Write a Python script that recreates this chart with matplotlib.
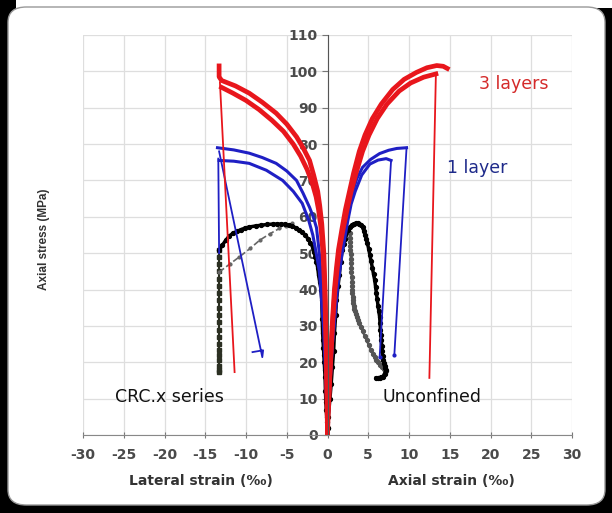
import matplotlib
matplotlib.use("Agg")
from matplotlib import pyplot as plt
from matplotlib.patches import FancyBboxPatch, Rectangle

plt.rcParams['font.family'] = ['DejaVu Sans']

# 3 layers (red)
red_ax1_x = [0, 0.05, 0.15, 0.3, 0.45, 0.65, 0.85, 1.1, 1.35, 1.8, 2.2, 2.7, 3.2, 3.9,
             4.6, 5.5, 6.6, 8.0, 9.4, 10.9, 12.2, 13.4, 14.2, 14.7]
red_ax1_y = [0, 5, 10, 18, 25, 33, 40, 46, 51, 57, 62, 67, 72, 78,
             82.5, 87, 91, 95, 97.8, 99.7, 101, 101.6, 101.4, 100.8]
red_ax2_x = [0, 0.05, 0.17, 0.33, 0.5, 0.7, 0.92, 1.2, 1.45, 1.95, 2.4, 2.9, 3.5, 4.3,
             5.1, 6.1, 7.3, 8.8, 10.2, 11.8, 13.3]
red_ax2_y = [0, 5, 10, 18, 25, 33, 40, 46, 51, 57, 62, 67, 72, 78,
             82.5, 87, 91, 94.6, 96.8, 98.4, 99.3]
red_ax_drop_x = [13.3, 12.5]
red_ax_drop_y = [99.3, 15.7]
red_lat1_x = [0, -0.05, -0.15, -0.3, -0.45, -0.7, -0.95, -1.2, -1.7, -2.2, -3.0, -3.8,
              -5.0, -6.3, -8.0, -9.6, -11.3, -13.0, -13.3, -13.3]
red_lat1_y = [0, 10, 25, 40, 50, 58, 63, 67, 71.5, 75.5, 79, 82,
              85.5, 88.5, 91.5, 94, 96, 97.5, 98.5, 101.5]
red_lat2_x = [0, -0.05, -0.17, -0.35, -0.55, -0.8, -1.1, -1.4, -1.9, -2.5, -3.3, -4.2,
              -5.4, -6.8, -8.4, -10.0, -11.6, -13.0]
red_lat2_y = [0, 10, 25, 40, 50, 57, 62, 65.5, 69.5, 73, 76.7, 80,
              83.5, 86.5, 89.5, 92, 94, 95.6]
red_lat_drop_x = [-13.2, -11.4]
red_lat_drop_y = [97, 17.3]

# 1 layer (blue)
blue_ax1_x = [0, 0.2, 0.6, 1.2, 1.7, 2.3, 2.7, 3.1, 3.6, 4.3, 5.3, 6.4, 7.5, 8.5, 9.7]
blue_ax1_y = [0, 10, 25, 40, 50, 59, 63.5, 67, 70.5, 73.6, 75.8, 77.4, 78.3, 78.8, 79]
blue_ax1_drop_x = [9.7, 8.2]
blue_ax1_drop_y = [79, 22]
blue_ax2_x = [0, 0.2, 0.6, 1.2, 1.8, 2.5, 2.9, 3.4, 4.2, 5.2, 6.2, 7.2, 7.8]
blue_ax2_y = [0, 10, 25, 40, 50, 59, 63.5, 67, 71.5, 74.5, 75.6, 76, 75.5]
blue_ax2_drop_x = [7.8, 6.4]
blue_ax2_drop_y = [75.5, 21.5]
blue_lat1_x = [0, -0.2, -0.4, -0.7, -1.0, -1.35, -1.75, -2.2, -3.0, -3.8, -5.0, -6.3,
               -8.0, -9.6, -11.5, -13.5]
blue_lat1_y = [0, 18, 30, 42, 50, 57, 60, 62.6, 66.5, 70, 72.6, 74.7,
               76.3, 77.5, 78.4, 79]
blue_lat2_x = [0, -0.2, -0.5, -1.0, -1.3, -1.8, -2.3, -3.1, -4.2, -5.5, -7.5, -9.6,
               -11.5, -13.3]
blue_lat2_y = [0, 15, 30, 45, 49, 55, 59, 63.7, 67, 70, 72.8, 74.7, 75.3, 75.5]
blue_lat_drop_x = [-13.3, -8.0, -7.9, -9.2]
blue_lat_drop_y = [78, 21.4, 23.3, 22.8]
blue_lat_vert_x = [-13.4, -13.3]
blue_lat_vert_y = [76, 50]

# unconfined (black)
blk_ax_x = [0, 0.1, 0.3, 0.45, 0.6, 0.75, 0.85, 1.0, 1.1, 1.3, 1.45, 1.6, 1.8, 2.0, 2.2,
            2.5, 2.75, 3.0, 3.25, 3.5, 3.7, 3.9, 4.1, 4.3, 4.45, 4.6, 4.75, 4.9, 5.05,
            5.2, 5.35, 5.5, 5.65, 5.8, 5.9, 6.0, 6.1, 6.2, 6.3, 6.4, 6.45, 6.5, 6.55,
            6.6, 6.65, 6.7, 6.75, 6.8, 6.9, 7.0, 7.1, 7.2, 7.0, 6.8, 6.6, 6.4, 6.2, 6.0]
blk_ax_y = [2, 5, 10, 14, 18.7, 23, 28, 33, 37, 41, 44, 47.5, 50.8, 52.5, 54,
            56.3, 57.2, 57.8, 58.1, 58.2, 58.2, 58, 57.7, 57.2, 56.2, 55, 54, 52.7, 51.2,
            49.5, 47.8, 46, 44.2, 42.5, 40.7, 39, 37.3, 35.5, 34, 32.4, 30.7, 29, 27.5,
            26, 24.5, 23, 21.8, 20.6, 19.8, 19, 18.4, 17.9, 16.9, 16, 15.9, 15.8, 15.75, 15.7]
blk_ax2_x = [2.7, 2.72, 2.75, 2.78, 2.8, 2.83, 2.85, 2.88, 2.9, 2.93, 2.95, 2.98, 3.0,
             3.03, 3.05, 3.08, 3.1, 3.15, 3.2, 3.3, 3.4, 3.5, 3.6, 3.75, 3.9, 4.1, 4.3,
             4.55, 4.8, 5.05, 5.3, 5.55, 5.8, 6.0, 6.2, 6.45, 6.7, 6.95, 7.2]
blk_ax2_y = [55.5, 54.2, 53, 52, 51, 49.7, 48.5, 47.2, 46, 44.7, 43.5, 42.2, 41,
             40, 39, 38, 37, 36.2, 35.5, 34.7, 34, 33.2, 32.5, 31.6, 30.8, 29.6, 28.5,
             27.2, 26, 24.7, 23.5, 22.4, 21.4, 20.7, 20, 19.3, 18.7, 18.1, 17.5]
blk_lat_x = [0, -0.05, -0.1, -0.15, -0.2, -0.25, -0.3, -0.35, -0.4, -0.45, -0.5, -0.55,
             -0.6, -0.65, -0.7, -0.8, -0.95, -1.1, -1.2, -1.35, -1.5, -1.65, -1.8, -2.1,
             -2.4, -2.75, -3.1, -3.5, -3.9, -4.3, -4.7, -5.2, -5.7, -6.2, -6.7, -7.4,
             -8.1, -8.8, -9.6, -10.1, -10.6, -11.1, -11.6, -12.1, -12.5, -12.9, -13.3]
blk_lat_y = [2, 3.5, 5, 7, 9, 12, 16, 18, 20, 22, 24, 26, 28, 32, 37, 40, 42, 44, 46,
             47.5, 49, 50.3, 51.6, 52.8, 54, 55, 55.8, 56.4, 57, 57.4, 57.7, 57.9, 58,
             58, 58, 57.9, 57.7, 57.5, 57.2, 56.9, 56.5, 56, 55.5, 54.6, 53.5, 52.2, 50.8]
blk_lat_dash_x = [-13.3, -12.0, -10.8, -9.5, -8.3, -7.1, -5.9, -5.1, -4.3]
blk_lat_dash_y = [44.8, 47, 49, 51.3, 53.6, 55.3, 56.8, 57.5, 58.2]
blk_vert_x = [-13.3, -13.3, -13.3, -13.3, -13.3, -13.3, -13.3, -13.3, -13.3, -13.3,
              -13.3, -13.3, -13.3, -13.3, -13.3, -13.3, -13.3, -13.3, -13.3, -13.3]
blk_vert_y = [50.8, 49, 47, 45, 43, 41, 39, 37, 35, 33, 31, 29, 27, 25, 23.5, 22, 20.5,
              19, 18, 17.3]

x_ticks = [-30, -25, -20, -15, -10, -5, 0, 5, 10, 15, 20, 25, 30]
x_ticklabels = ["-30", "-25", "-20", "-15", "-10", "-5", "0", "5", "10", "15", "20", "25", "30"]
y_ticks = [0, 10, 20, 30, 40, 50, 60, 70, 80, 90, 100, 110]

red = "#e8161c"
blue = "#1f1fc4"

fig = plt.figure(figsize=(6.12, 5.13), dpi=100)
fig.patch.set_facecolor("black")
fig.patches.append(Rectangle((16 / 612, 505 / 513), 596 / 612, 8 / 513,
                             transform=fig.transFigure, facecolor="white",
                             edgecolor="none", zorder=-6))
frame = FancyBboxPatch((8 / 612, 8 / 513), 597 / 612, 498 / 513,
                       boxstyle="round,pad=0,rounding_size=0.03",
                       transform=fig.transFigure, facecolor="white",
                       edgecolor="#999999", linewidth=1, zorder=-5)
fig.patches.append(frame)

ax = fig.add_axes([83 / 612, 1 - 435 / 513, 489 / 612, 400 / 513])
ax.set_zorder(1)
ax.set_facecolor("white")
ax.set_xlim(-30, 30)
ax.set_ylim(0, 110)

ax.set_xticks(x_ticks)
ax.set_xticklabels(x_ticklabels)
ax.set_yticks(y_ticks)
ax.grid(True, color="#dedede", linewidth=0.9)
ax.set_axisbelow(True)

for s in ["top", "right"]:
    ax.spines[s].set_visible(False)
ax.spines["left"].set_position(("data", 0))
ax.spines["left"].set_color("#555555")
ax.spines["bottom"].set_color("#888888")
ax.tick_params(axis="both", labelsize=10, colors="#777777", labelcolor="#4a4a4a")
ax.tick_params(axis="x", direction="inout", length=5, pad=7)
ax.tick_params(axis="y", direction="out", length=4, pad=3)
for lab in ax.get_xticklabels() + ax.get_yticklabels():
    lab.set_fontweight("bold")

# black unconfined
ax.plot(blk_vert_x, blk_vert_y, color="#2b2f22", lw=1.5, marker="s", ms=2.8)
ax.plot(blk_lat_dash_x, blk_lat_dash_y, color="#666666", lw=1.2, ls="--", marker="o", ms=2)
ax.plot(blk_ax2_x, blk_ax2_y, color="#555555", lw=1.5, marker="o", ms=2.8)
ax.plot(blk_lat_x, blk_lat_y, color="black", lw=2.5, marker="o", ms=2.8)
ax.plot(blk_ax_x, blk_ax_y, color="black", lw=2.5, marker="o", ms=2.8)

# blue 1 layer
ax.plot(blue_lat1_x, blue_lat1_y, color=blue, lw=2.2)
ax.plot(blue_lat2_x, blue_lat2_y, color=blue, lw=2.2)
ax.plot(blue_lat_drop_x, blue_lat_drop_y, color=blue, lw=1.3)
ax.plot(blue_lat_vert_x, blue_lat_vert_y, color=blue, lw=1.3)
ax.plot(blue_ax1_x, blue_ax1_y, color=blue, lw=2.2)
ax.plot(blue_ax2_x, blue_ax2_y, color=blue, lw=2.2)
ax.plot(blue_ax1_drop_x, blue_ax1_drop_y, color=blue, lw=1.3, marker="o", ms=2, markevery=[1])
ax.plot(blue_ax2_drop_x, blue_ax2_drop_y, color=blue, lw=1.3, marker="o", ms=2, markevery=[1])

# red 3 layers
ax.plot(red_lat1_x, red_lat1_y, color=red, lw=3.4)
ax.plot(red_lat2_x, red_lat2_y, color=red, lw=3.4)
ax.plot(red_lat_drop_x, red_lat_drop_y, color=red, lw=1.3)
ax.plot(red_ax1_x, red_ax1_y, color=red, lw=3.4)
ax.plot(red_ax2_x, red_ax2_y, color=red, lw=3.4)
ax.plot(red_ax_drop_x, red_ax_drop_y, color=red, lw=1.3)

ax.text(18.65, 96.4, "3 layers", color="#d42a2a", fontsize=12.5, va="center")
ax.text(14.7, 73.4, "1 layer", color="#1e2a8a", fontsize=12.5, va="center")
ax.text(-26.1, 10.4, "CRC.x series", color="#111111", fontsize=12.5, va="center")
ax.text(6.75, 10.4, "Unconfined", color="#111111", fontsize=12.5, va="center")

ax.set_ylabel("Axial stress (MPa)", fontsize=8.5, fontweight="bold", color="#333333",
              family=["Liberation Sans", "DejaVu Sans"])
ax.yaxis.set_label_coords(-0.068, 0.49)
ax.text(0.242, -0.115, "Lateral strain (‰)", transform=ax.transAxes, ha="center",
        va="center", fontsize=10, fontweight="bold", color="#333333")
ax.text(0.753, -0.115, "Axial strain (‰)", transform=ax.transAxes, ha="center",
        va="center", fontsize=10, fontweight="bold", color="#333333")

plt.savefig("out.png", dpi=100, facecolor=fig.get_facecolor())
